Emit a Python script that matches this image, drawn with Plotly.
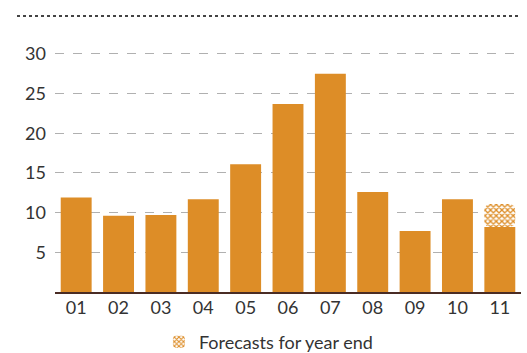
import plotly.graph_objects as go

categories = ["01", "02", "03", "04", "05", "06", "07", "08", "09", "10", "11"]
actual_values = [11.9, 9.6, 9.7, 11.7, 16.1, 23.7, 27.5, 12.6, 7.7, 11.7, 8.2]
forecast_extra = [None, None, None, None, None, None, None, None, None, None, 2.9]
y_ticks = [5, 10, 15, 20, 25, 30]
legend_label = "Forecasts for year end"

ORANGE = "#dd8d27"
FONT = "Lato"

fig = go.Figure()
fig.add_trace(go.Bar(
    x=categories, y=actual_values,
    marker=dict(color=ORANGE, line=dict(width=0)),
    showlegend=False, hoverinfo="skip",
))
fig.add_trace(go.Bar(
    x=categories, y=forecast_extra, base=actual_values,
    name=legend_label,
    marker=dict(
        color="white",
        line=dict(width=0),
        cornerradius=6,
        pattern=dict(shape="x", fgcolor=ORANGE, bgcolor="white", size=4, solidity=0.55, fillmode="replace"),
    ),
    showlegend=True, hoverinfo="skip",
))

fig.update_layout(
    width=527, height=353,
    margin=dict(l=55, r=6, t=46, b=61, autoexpand=False),
    barmode="overlay",
    bargap=0.27,
    plot_bgcolor="white", paper_bgcolor="white",
    font=dict(family=FONT, size=18, color="#333333"),
    showlegend=True,
    legend=dict(
        orientation="h", x=0.458, xanchor="center",
        y=-0.203, yanchor="middle",
        font=dict(size=18, color="#333333"),
        itemsizing="constant", bgcolor="rgba(0,0,0,0)",
    ),
    xaxis=dict(
        type="category",
        showgrid=False,
        showline=True, linecolor="#4a2c24", linewidth=2,
        ticks="", tickfont=dict(size=18, color="#333333"),
        ticklabelstandoff=-2,
    ),
    yaxis=dict(
        range=[0, 31],
        tickvals=y_ticks,
        showgrid=True, gridcolor="#b0b0b0", gridwidth=1, griddash="dash",
        zeroline=False, showline=False,
        ticks="", tickfont=dict(size=18, color="#333333"),
        ticklabelstandoff=8,
    ),
    shapes=[dict(
        type="line", xref="paper", yref="paper",
        x0=(17 - 55) / 466, x1=(520 - 55) / 466,
        y0=(292 - 16) / 246,
        y1=(292 - 16) / 246,
        line=dict(color="#444444", width=2, dash="dot"),
    )],
)

fig.write_html("out.html")
